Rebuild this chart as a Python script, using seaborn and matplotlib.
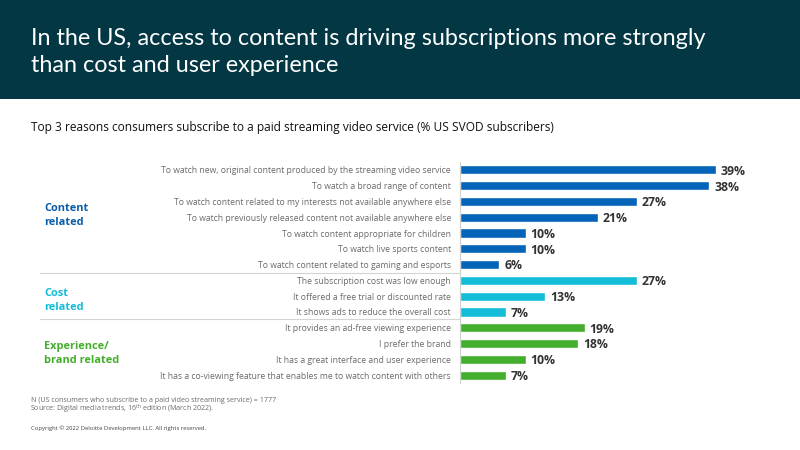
import pandas as pd
import matplotlib.pyplot as plt
import seaborn as sns
from matplotlib.lines import Line2D
from matplotlib.patches import Rectangle

reasons = [
    'To watch new, original content produced by the streaming video service',
    'To watch a broad range of content',
    'To watch content related to my interests not available anywhere else',
    'To watch previously released content not available anywhere else',
    'To watch content appropriate for children',
    'To watch live sports content',
    'To watch content related to gaming and esports',
    'The subscription cost was low enough',
    'It offered a free trial or discounted rate',
    'It shows ads to reduce the overall cost',
    'It provides an ad-free viewing experience',
    'I prefer the brand',
    'It has a great interface and user experience',
    'It has a co-viewing feature that enables me to watch content with others',
]
values = [39, 38, 27, 21, 10, 10, 6, 27, 13, 7, 19, 18, 10, 7]
groups = ['Content'] * 7 + ['Cost'] * 3 + ['Experience'] * 4
group_colors = {'Content': '#0563B8', 'Cost': '#14BCD8', 'Experience': '#43AE2B'}

W, H = 800, 450

sns.set_theme(style='white')
plt.rcParams['font.family'] = ['Open Sans', 'DejaVu Sans']
plt.rcParams['mathtext.default'] = 'regular'

fig = plt.figure(figsize=(8, 4.5), dpi=100)
fig.patch.set_facecolor('white')

# header band
fig.add_artist(Rectangle((0, 1 - 99 / H), 1, 99 / H, transform=fig.transFigure, color='#023743', lw=0))

# plot area in pixels: x 460-780, y 162-383
ax = fig.add_axes([460 / W, 1 - 383 / H, 320 / W, 221 / H])

df = pd.DataFrame({'reason': reasons, 'value': values, 'group': groups})
sns.barplot(data=df, x='value', y='reason', hue='group', palette=group_colors,
            dodge=False, width=0.58, saturation=1, legend=False, ax=ax)

ax.set_xlim(0, 320 / 6.56)
ax.set_ylim(13.5, -0.5)
ax.set_xlabel('')
ax.set_ylabel('')
ax.set_xticks([])
ax.tick_params(axis='y', length=0, pad=6.5, labelsize=6.24, labelcolor='#6A6A6A')
sns.despine(ax=ax, left=False, bottom=True)
ax.spines['left'].set_color('#D0D0D0')
ax.spines['left'].set_linewidth(0.8)

# value labels sit a touch below the bar centre
for cont in ax.containers:
    for lab in ax.bar_label(cont, fmt='%d%%', padding=3.5, fontsize=8.8, fontweight='bold', color='#333333'):
        lab.xyann = (lab.xyann[0], lab.xyann[1] - 1)


def px_text(x, y, s, **kw):
    fig.text(x / W, 1 - y / H, s, **kw)


px_text(31, 38.5, 'In the US, access to content is driving subscriptions more strongly',
        fontsize=16.85, color='white', va='center', family='Lato')
px_text(31, 66, 'than cost and user experience', fontsize=16.85, color='white', va='center', family='Lato')
px_text(31, 128, 'Top 3 reasons consumers subscribe to a paid streaming video service (% US SVOD subscribers)',
        fontsize=8.6, color='#111111', va='center')

label_font = dict(fontsize=7.9, fontweight='bold', va='center')
px_text(44, 208.5, 'Content', color='#0B5CAB', **label_font)
px_text(44, 222.5, 'related', color='#0B5CAB', **label_font)
px_text(44, 293, 'Cost', color='#14BCD8', **label_font)
px_text(44, 307, 'related', color='#14BCD8', **label_font)
px_text(44, 346, 'Experience/', color='#43AE2B', **label_font)
px_text(44, 360.5, 'brand related', color='#43AE2B', **label_font)

for y in [272.5, 318.5]:
    fig.add_artist(Line2D([40 / W, 460 / W], [1 - y / H, 1 - y / H], transform=fig.transFigure,
                          color='#D4D4D4', lw=0.8))

px_text(31, 400.5, 'N (US consumers who subscribe to a paid video streaming service) = 1777',
        fontsize=5.1, color='#6A6A6A', va='center')
px_text(30.5, 409.5, 'Source: Digital media trends, 16$^{th}$ edition (March 2022).',
        fontsize=5.1, color='#6A6A6A', va='center')
px_text(31, 428, 'Copyright © 2022 Deloitte Development LLC. All rights reserved.',
        fontsize=4.25, color='#444444', va='center')

fig.savefig('out.png', dpi=100)
